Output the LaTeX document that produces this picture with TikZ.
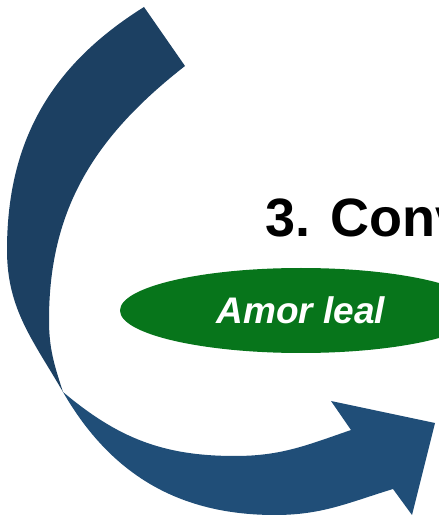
\documentclass[tikz,border=0pt]{standalone}
\usepackage{fontspec}
\setmainfont{Liberation Sans}
\usepackage{tikz}
\usetikzlibrary{shapes.geometric}
\definecolor{bandtop}{RGB}{28,64,98}
\definecolor{bandlow}{RGB}{32,78,120}
\definecolor{lealgreen}{RGB}{7,117,27}

\begin{document}
\begin{tikzpicture}[%
    x=1pt, y=1pt,
    upper/.style={
      fill=bandtop
    },
    lower/.style={
      fill=bandlow
    },
    pill/.style={
      ellipse,
      fill=lealgreen,
      minimum width=362,
      minimum height=85,
      inner sep=0
    }]
    \useasboundingbox (0,0) rectangle (439,515);
    \clip (0,0) rectangle (439,515);

    \coordinate (x) at (63,123);

    % upper part of the ribbon
    \fill[upper] (144,508) to[out=212,in=90] (7,265) to[out=-90,in=120] (x)
        to[out=108,in=-90] (49,195) to[out=90,in=218] (185,449) -- cycle;

    % lower part with the head
    \fill[lower] (x) to[out=-60,in=180] (275,0) to[out=0,in=197] (393,26)
        -- (412,0) -- (435,92) -- (331,114) -- (351,85)
        to[out=199,in=0] (235,59) to[out=180,in=-40] (x) -- cycle;

    \node[anchor=base west, inner sep=0] at (265.5,278) (title)
        {\fontsize{54}{60}\selectfont\bfseries 3. Conv};
    \node[pill] at (301,204.5) (leal)
        {\fontsize{37}{40}\selectfont\bfseries\itshape\color{white}Amor leal};
\end{tikzpicture}
\end{document}
